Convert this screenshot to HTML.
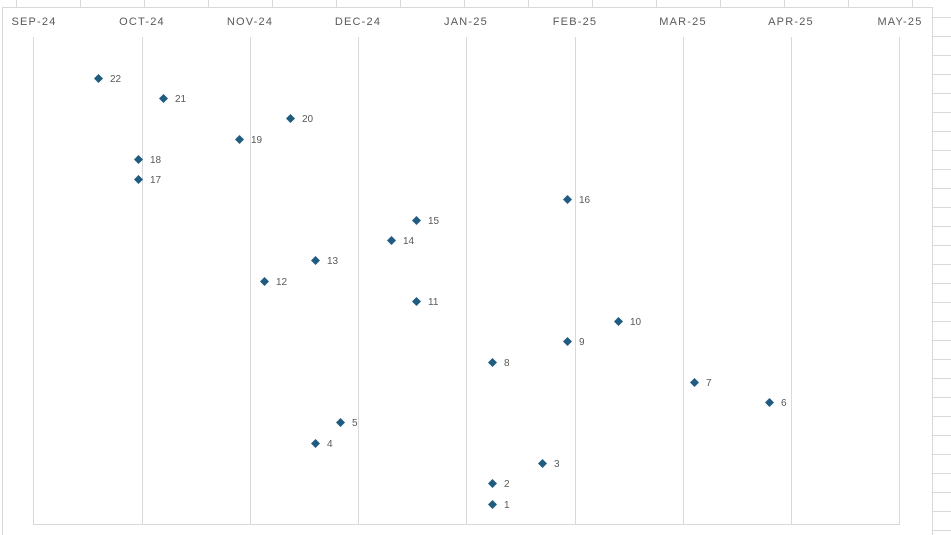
<!DOCTYPE html>
<html><head><style>
html,body{margin:0;padding:0;background:#fff;width:951px;height:535px;overflow:hidden}
svg{display:block;font-family:"Liberation Sans",sans-serif}
</style></head><body>
<svg width="951" height="535" xmlns="http://www.w3.org/2000/svg">
<g stroke="#d9d9d9" stroke-width="1">
<line x1="16.5" y1="0" x2="16.5" y2="7"/><line x1="80.5" y1="0" x2="80.5" y2="7"/><line x1="144.5" y1="0" x2="144.5" y2="7"/><line x1="208.5" y1="0" x2="208.5" y2="7"/><line x1="272.5" y1="0" x2="272.5" y2="7"/><line x1="336.5" y1="0" x2="336.5" y2="7"/><line x1="400.5" y1="0" x2="400.5" y2="7"/><line x1="464.5" y1="0" x2="464.5" y2="7"/><line x1="528.5" y1="0" x2="528.5" y2="7"/><line x1="592.5" y1="0" x2="592.5" y2="7"/><line x1="656.5" y1="0" x2="656.5" y2="7"/><line x1="720.5" y1="0" x2="720.5" y2="7"/><line x1="784.5" y1="0" x2="784.5" y2="7"/><line x1="848.5" y1="0" x2="848.5" y2="7"/><line x1="912.5" y1="0" x2="912.5" y2="7"/>
<line x1="932" y1="17.5" x2="951" y2="17.5"/><line x1="932" y1="36.5" x2="951" y2="36.5"/><line x1="932" y1="55.5" x2="951" y2="55.5"/><line x1="932" y1="74.5" x2="951" y2="74.5"/><line x1="932" y1="93.5" x2="951" y2="93.5"/><line x1="932" y1="112.5" x2="951" y2="112.5"/><line x1="932" y1="131.5" x2="951" y2="131.5"/><line x1="932" y1="150.5" x2="951" y2="150.5"/><line x1="932" y1="169.5" x2="951" y2="169.5"/><line x1="932" y1="188.5" x2="951" y2="188.5"/><line x1="932" y1="207.5" x2="951" y2="207.5"/><line x1="932" y1="226.5" x2="951" y2="226.5"/><line x1="932" y1="245.5" x2="951" y2="245.5"/><line x1="932" y1="264.5" x2="951" y2="264.5"/><line x1="932" y1="283.5" x2="951" y2="283.5"/><line x1="932" y1="302.5" x2="951" y2="302.5"/><line x1="932" y1="321.5" x2="951" y2="321.5"/><line x1="932" y1="340.5" x2="951" y2="340.5"/><line x1="932" y1="359.5" x2="951" y2="359.5"/><line x1="932" y1="378.5" x2="951" y2="378.5"/><line x1="932" y1="397.5" x2="951" y2="397.5"/><line x1="932" y1="416.5" x2="951" y2="416.5"/><line x1="932" y1="435.5" x2="951" y2="435.5"/><line x1="932" y1="454.5" x2="951" y2="454.5"/><line x1="932" y1="473.5" x2="951" y2="473.5"/><line x1="932" y1="492.5" x2="951" y2="492.5"/><line x1="932" y1="511.5" x2="951" y2="511.5"/><line x1="932" y1="530.5" x2="951" y2="530.5"/>
<rect x="2.5" y="7.5" width="930" height="540" fill="#fff"/>
<line x1="142.5" y1="37" x2="142.5" y2="524"/><line x1="250.5" y1="37" x2="250.5" y2="524"/><line x1="358.5" y1="37" x2="358.5" y2="524"/><line x1="466.5" y1="37" x2="466.5" y2="524"/><line x1="575.5" y1="37" x2="575.5" y2="524"/><line x1="683.5" y1="37" x2="683.5" y2="524"/><line x1="791.5" y1="37" x2="791.5" y2="524"/>
<line x1="33.5" y1="37" x2="33.5" y2="524.5"/><line x1="899.5" y1="37" x2="899.5" y2="524.5"/><line x1="33" y1="524.5" x2="900" y2="524.5"/>
</g>
<g font-size="11" fill="#595959" letter-spacing="1.2" text-anchor="middle">
<text x="34" y="25">SEP-24</text><text x="142" y="25">OCT-24</text><text x="250" y="25">NOV-24</text><text x="358" y="25">DEC-24</text><text x="466" y="25">JAN-25</text><text x="575" y="25">FEB-25</text><text x="683" y="25">MAR-25</text><text x="791" y="25">APR-25</text><text x="900" y="25">MAY-25</text>
</g>
<g id="pts" fill="#1f5c7f"></g>
<g id="lbl" font-size="10" fill="#595959"></g>
<script>
var d=[[98,78,22],[163,98,21],[290,118,20],[239,139,19],[138,159,18],[138,179,17],[567,199,16],[416,220,15],[391,240,14],[315,260,13],[264,281,12],[416,301,11],[618,321,10],[567,341,9],[492,362,8],[694,382,7],[769,402,6],[340,422,5],[315,443,4],[542,463,3],[492,483,2],[492,504,1]];
var p=document.getElementById('pts'),l=document.getElementById('lbl'),ns="http://www.w3.org/2000/svg";
d.forEach(function(a){var x=a[0]+0.5,y=a[1]+0.5;
var q=document.createElementNS(ns,'polygon');q.setAttribute('points',(x)+','+(y-4.5)+' '+(x+4.5)+','+y+' '+x+','+(y+4.5)+' '+(x-4.5)+','+y);p.appendChild(q);
var t=document.createElementNS(ns,'text');t.setAttribute('x',a[0]+12);t.setAttribute('y',a[1]+4);t.textContent=a[2];l.appendChild(t);});
</script>
</svg>
</body></html>
